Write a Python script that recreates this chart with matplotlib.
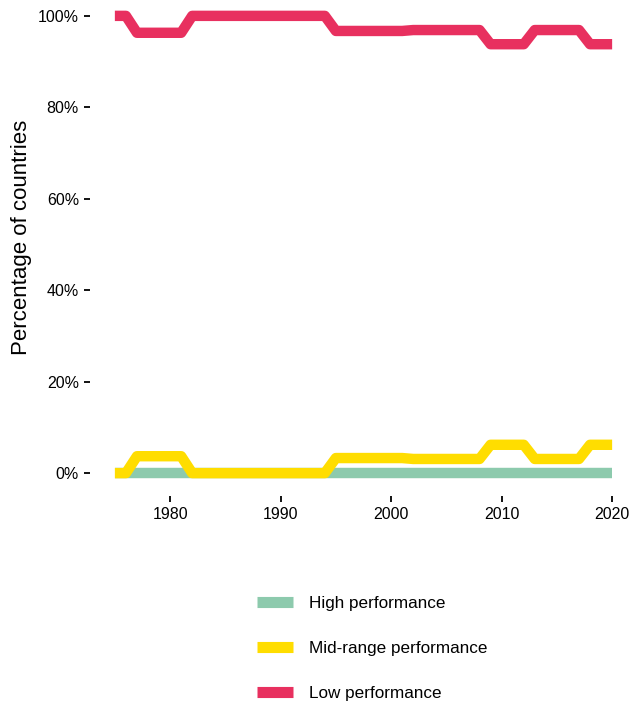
import numpy as np
import matplotlib
matplotlib.use("Agg")
import matplotlib.pyplot as plt
from matplotlib.lines import Line2D
from matplotlib.ticker import FuncFormatter

plt.rcParams['font.family'] = ['Liberation Sans', 'DejaVu Sans']

years = list(range(1975, 2021))
# share of countries (%) per year
high = [0.0] * len(years)
mid = ([0.0] * 2 + [3.7] * 5 + [0.0] * 13 + [3.3] * 7 + [3.1] * 7
       + [6.2] * 4 + [3.1] * 5 + [6.2] * 3)
low = ([100.0] * 2 + [96.3] * 5 + [100.0] * 13 + [96.7] * 7 + [96.9] * 7
       + [93.8] * 4 + [96.9] * 5 + [93.8] * 3)

labels = ["High performance", "Mid-range performance", "Low performance"]
colors = ["#8DCAAD", "#FFDD00", "#E8305F"]

fig = plt.figure(figsize=(6.34, 7.10), dpi=100)
ax = fig.add_axes([90 / 634, 214 / 710, 547 / 634, 503 / 710])

for vals, c in zip([high, mid, low], colors):
    ax.plot(years, vals, color=c, lw=7.5, solid_capstyle='butt',
            solid_joinstyle='round')

ax.set_xlim(1972.75, 2022.25)
ax.set_ylim(-5, 105)
ax.set_xticks([1980, 1990, 2000, 2010, 2020])
ax.set_yticks([0, 20, 40, 60, 80, 100])
ax.yaxis.set_major_formatter(FuncFormatter(lambda v, p: f"{v:.0f}%"))
for s in ax.spines.values():
    s.set_visible(False)
ax.tick_params(axis='both', length=4, width=1.3, color='black',
               labelsize=11.5, labelcolor='black', pad=4)
ax.set_ylabel("Percentage of countries", fontsize=16, labelpad=0)
ax.yaxis.set_label_coords(-0.106, 0.514)

handles = [Line2D([], [], color=c, lw=8, solid_capstyle='butt') for c in colors]
fig.legend(handles, labels, loc='upper left', bbox_to_anchor=(242 / 634, 1 - 581 / 710),
           frameon=False, fontsize=12.3, handlelength=2.1, handletextpad=0.94,
           labelspacing=1.75)

fig.savefig("out.png", dpi=100)
